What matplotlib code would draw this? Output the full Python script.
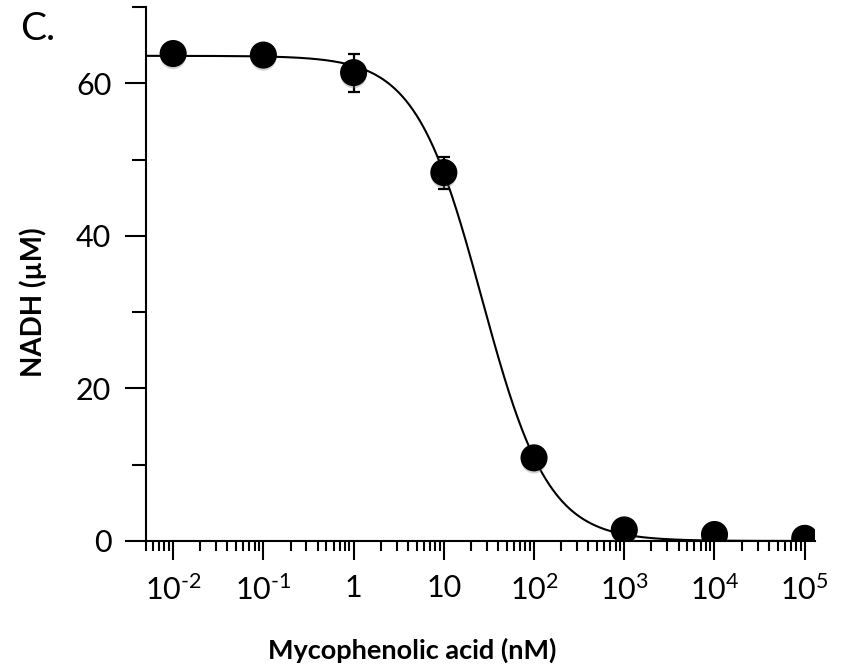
import numpy as np
import matplotlib
matplotlib.use("Agg")
import matplotlib.pyplot as plt
from matplotlib import patheffects as pe
from matplotlib.ticker import LogLocator, FixedLocator, NullFormatter, FixedFormatter

plt.rcParams['font.family'] = ['Lato', 'DejaVu Sans']
plt.rcParams['mathtext.fontset'] = 'custom'
plt.rcParams['mathtext.rm'] = 'Lato'
plt.rcParams['mathtext.it'] = 'Lato:italic'
plt.rcParams['mathtext.bf'] = 'Lato:bold'

# Measured NADH vs. mycophenolic acid concentration
conc_nM = [1e-2, 1e-1, 1, 10, 1e2, 1e3, 1e4, 1e5]
nadh_uM = [63.9, 63.7, 61.4, 48.3, 10.9, 1.45, 0.85, 0.35]
nadh_err = [0.0, 0.0, 2.5, 2.1, 0.0, 0.0, 0.0, 0.0]

# Four-parameter logistic fit parameters
fit_top = 63.6
fit_bottom = 0.0
fit_ic50 = 26.4
fit_hill = 1.18

xtick_values = [1e-2, 1e-1, 1, 10, 1e2, 1e3, 1e4, 1e5]
xtick_labels = [r'$\mathregular{10^{\text{-}2}}$', r'$\mathregular{10^{\text{-}1}}$', '1', '10',
                r'$\mathregular{10^{2}}$', r'$\mathregular{10^{3}}$',
                r'$\mathregular{10^{4}}$', r'$\mathregular{10^{5}}$']
ytick_major = [0, 20, 40, 60]
ytick_minor = [10, 30, 50, 70]

fig = plt.figure(figsize=(8.46, 6.71), dpi=100)
ax = fig.add_axes([146/846, 1 - 541/671, (815 - 146)/846, (541 - 7)/671])

xlim = (5e-3, 1.3e5)
xs = np.logspace(np.log10(xlim[0]), np.log10(xlim[1]), 600)
ys = fit_bottom + (fit_top - fit_bottom) / (1 + (xs / fit_ic50) ** fit_hill)
ax.plot(xs, ys, color='black', lw=1.5, zorder=2)

ax.errorbar(conc_nM, nadh_uM, yerr=nadh_err, fmt='none', ecolor='black',
            elinewidth=1.6, capsize=4.5, capthick=1.6, zorder=3)
ax.plot(conc_nM, nadh_uM, 'o', color='black', markersize=18.5, zorder=4,
        path_effects=[pe.SimplePatchShadow(offset=(0, -2), shadow_rgbFace='gray', alpha=0.35),
                      pe.Normal()])

ax.set_xscale('log')
ax.set_xlim(*xlim)
ax.set_ylim(0, 70)

ax.xaxis.set_major_locator(FixedLocator(xtick_values))
ax.xaxis.set_major_formatter(FixedFormatter(xtick_labels))
ax.xaxis.set_minor_locator(LogLocator(base=10, subs=np.arange(2, 10), numticks=30))
ax.xaxis.set_minor_formatter(NullFormatter())

ax.yaxis.set_major_locator(FixedLocator(ytick_major))
ax.yaxis.set_minor_locator(FixedLocator(ytick_minor))

for side in ('top', 'right'):
    ax.spines[side].set_visible(False)
for side in ('left', 'bottom'):
    ax.spines[side].set_linewidth(1.5)

ax.tick_params(axis='x', which='major', direction='out', length=14, width=1.5,
               labelsize=22, pad=10)
ax.tick_params(axis='x', which='minor', direction='out', length=7.5, width=1.5)
ax.tick_params(axis='y', which='major', direction='out', length=15, width=1.5,
               labelsize=22, pad=10)
ax.tick_params(axis='y', which='minor', direction='out', length=10, width=1.5)

fig.text(412/846, 1 - 650/671, 'Mycophenolic acid (nM)', ha='center', va='center',
         fontsize=19.5, fontweight='bold')
fig.text(33/846, 1 - 302/671, 'NADH (µM)', ha='center', va='center', rotation=90,
         fontsize=20, fontweight='bold')
fig.text(20/846, 1 - 29/671, 'C.', ha='left', va='center', fontsize=28)

fig.savefig('out.png', dpi=100)
